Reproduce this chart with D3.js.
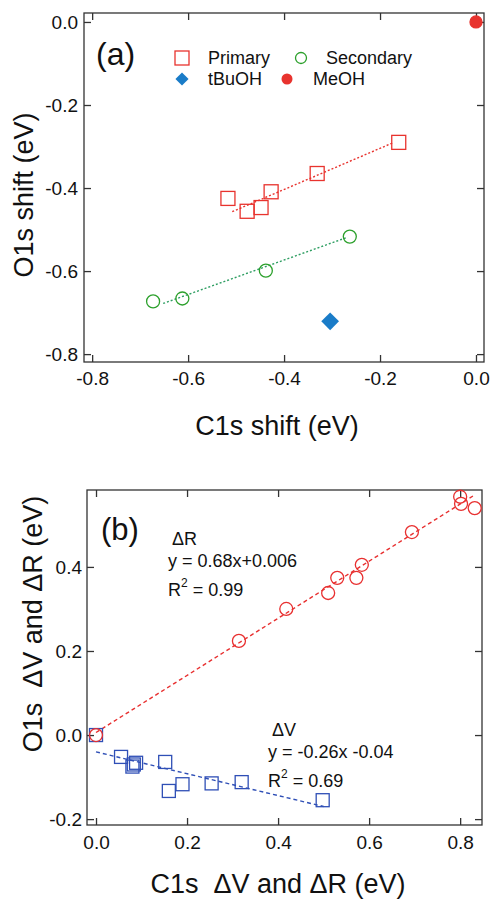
<!DOCTYPE html>
<html>
<head>
<meta charset="utf-8">
<script src="https://cdn.jsdelivr.net/npm/d3@7"></script>
<style>
  body { margin: 0; background: #fff; }
  text { font-family: "Liberation Sans", Arial, sans-serif; fill: #111; }
</style>
</head>
<body>
<svg id="chart"></svg>
<script>
// ---- panel (a) data ----
const primaryX = [-0.517, -0.477, -0.448, -0.427, -0.331, -0.161];
const primaryY = [-0.425, -0.456, -0.447, -0.409, -0.365, -0.290];
const secondaryX = [-0.673, -0.612, -0.438, -0.263];
const secondaryY = [-0.673, -0.666, -0.599, -0.517];
const tbuohX = [-0.304];
const tbuohY = [-0.721];
const meohX = [0.0];
const meohY = [0.0];
const primaryFitX = [-0.508, -0.173];
const primaryFitY = [-0.457, -0.291];
const secondaryFitX = [-0.652, -0.269];
const secondaryFitY = [-0.678, -0.519];
const ticksA_x = [-0.8, -0.6, -0.4, -0.2, 0.0];
const ticksA_y = [-0.8, -0.6, -0.4, -0.2, 0.0];

// ---- panel (b) data ----
const dRX = [0.0, 0.314, 0.418, 0.510, 0.530, 0.572, 0.584, 0.694, 0.800, 0.802, 0.832];
const dRY = [0.0, 0.224, 0.300, 0.338, 0.374, 0.374, 0.405, 0.483, 0.567, 0.550, 0.540];
const dVX = [0.0, 0.055, 0.080, 0.088, 0.083, 0.152, 0.160, 0.190, 0.254, 0.320, 0.498];
const dVY = [0.0, -0.052, -0.075, -0.066, -0.070, -0.064, -0.133, -0.117, -0.115, -0.112, -0.155];
const dRFitX = [0.0, 0.83];
const dRFitY = [0.006, 0.570];
const dVFitX = [0.0, 0.50];
const dVFitY = [-0.04, -0.17];
const ticksB_x = [0.0, 0.2, 0.4, 0.6, 0.8];
const ticksB_y = [-0.2, 0.0, 0.2, 0.4];

const red = "#e8332e", green = "#2ca02c", greenLine = "#2e9e62",
      blue = "#1a7cc8", navy = "#2f4fb6", redB = "#e83030";

const svg = d3.select("#chart").attr("width", 491).attr("height", 900);
const fmt = d => d.toFixed(1);
const zip = (xs, ys) => xs.map((x, i) => ({ x: x, y: ys[i] }));

function frame(g, x, y, padX, padY) {
    const [x0, x1] = x.range(), [y0, y1] = y.range();
    g.append("rect")
        .attr("x", x0).attr("y", y1)
        .attr("width", x1 - x0).attr("height", y0 - y1)
        .attr("fill", "none").attr("stroke", "#333").attr("stroke-width", 1.3);

    const style = sel => {
        sel.select(".domain").remove();
        sel.selectAll(".tick line").attr("stroke", "#333").attr("stroke-width", 1.3);
        sel.selectAll(".tick text").style("font-size", "19px").attr("fill", "#111");
    };
    g.append("g").attr("transform", `translate(0,${y0})`)
        .call(d3.axisBottom(x).tickValues(x.ticksList).tickFormat(fmt).tickSize(-7).tickPadding(padX))
        .call(style);
    g.append("g").attr("transform", `translate(0,${y1})`)
        .call(d3.axisTop(x).tickValues(x.ticksList).tickFormat("").tickSize(-7))
        .call(style);
    g.append("g").attr("transform", `translate(${x0},0)`)
        .call(d3.axisLeft(y).tickValues(y.ticksList).tickFormat(fmt).tickSize(-7).tickPadding(padY))
        .call(style);
    g.append("g").attr("transform", `translate(${x1},0)`)
        .call(d3.axisRight(y).tickValues(y.ticksList).tickFormat("").tickSize(-7))
        .call(style);
}

function fitLine(g, x, y, xs, ys, color, dash) {
    g.append("path")
        .datum(zip(xs, ys))
        .attr("d", d3.line().x(d => x(d.x)).y(d => y(d.y)))
        .attr("fill", "none").attr("stroke", color)
        .attr("stroke-width", 1.4).attr("stroke-dasharray", dash);
}

function squares(g, x, y, pts, color, s) {
    g.selectAll(null).data(pts).enter().append("rect")
        .attr("x", d => x(d.x) - s / 2).attr("y", d => y(d.y) - s / 2)
        .attr("width", s).attr("height", s)
        .attr("fill", "none").attr("stroke", color).attr("stroke-width", 1.3);
}

function circles(g, x, y, pts, color, r, filled) {
    g.selectAll(null).data(pts).enter().append("circle")
        .attr("cx", d => x(d.x)).attr("cy", d => y(d.y)).attr("r", r)
        .attr("fill", filled ? color : "none").attr("stroke", color).attr("stroke-width", 1.3);
}

// ================= panel (a) =================
const xA = d3.scaleLinear().domain([-0.817, 0.0167]).range([84, 484]);
const yA = d3.scaleLinear().domain([-0.819, 0.0216]).range([362, 13]);
xA.ticksList = ticksA_x; yA.ticksList = ticksA_y;
const gA = svg.append("g");
frame(gA, xA, yA, 10, 6);

fitLine(gA, xA, yA, primaryFitX, primaryFitY, red, "2,2");
fitLine(gA, xA, yA, secondaryFitX, secondaryFitY, greenLine, "2,2");
squares(gA, xA, yA, zip(primaryX, primaryY), red, 14);
circles(gA, xA, yA, zip(secondaryX, secondaryY), green, 6.5, false);
gA.selectAll(null).data(zip(tbuohX, tbuohY)).enter().append("path")
    .attr("d", d3.symbol(d3.symbolDiamond2, 200))
    .attr("transform", d => `translate(${xA(d.x)},${yA(d.y)})`)
    .attr("fill", blue);
circles(gA, xA, yA, zip(meohX, meohY), red, 6, true);

gA.append("text").attr("x", 96).attr("y", 65).style("font-size", "32px").text("(a)");

// legend
const legend = gA.append("g").style("font-size", "18px");
legend.append("rect").attr("x", 175).attr("y", 51).attr("width", 14).attr("height", 14)
    .attr("fill", "none").attr("stroke", red).attr("stroke-width", 1.3);
legend.append("text").attr("x", 208).attr("y", 58).attr("dy", "0.35em").text("Primary");
legend.append("circle").attr("cx", 301).attr("cy", 58).attr("r", 5.5)
    .attr("fill", "none").attr("stroke", green).attr("stroke-width", 1.3);
legend.append("text").attr("x", 326).attr("y", 58).attr("dy", "0.35em").text("Secondary");
legend.append("path").attr("d", d3.symbol(d3.symbolDiamond2, 110))
    .attr("transform", "translate(182,79)").attr("fill", blue);
legend.append("text").attr("x", 208).attr("y", 79).attr("dy", "0.35em").text("tBuOH");
legend.append("circle").attr("cx", 287).attr("cy", 79).attr("r", 5.5).attr("fill", red);
legend.append("text").attr("x", 313).attr("y", 79).attr("dy", "0.35em").text("MeOH");

svg.append("text").attr("x", 277).attr("y", 435).attr("text-anchor", "middle")
    .style("font-size", "27px").text("C1s shift (eV)");
svg.append("text").attr("transform", "translate(33,195) rotate(-90)").attr("text-anchor", "middle")
    .style("font-size", "27px").text("O1s shift (eV)");

// ================= panel (b) =================
const xB = d3.scaleLinear().domain([-0.0198, 0.848]).range([87, 482]);
const yB = d3.scaleLinear().domain([-0.214, 0.583]).range([825, 490]);
xB.ticksList = ticksB_x; yB.ticksList = ticksB_y;
const gB = svg.append("g");
frame(gB, xB, yB, 11, 5);

fitLine(gB, xB, yB, dRFitX, dRFitY, redB, "4,3");
fitLine(gB, xB, yB, dVFitX, dVFitY, navy, "4,3");
squares(gB, xB, yB, zip(dVX, dVY), navy, 13);
circles(gB, xB, yB, zip(dRX, dRY), redB, 6.5, false);

gB.append("text").attr("x", 101).attr("y", 540).style("font-size", "31px").text("(b)");

function annot(g, x, y, label, eq, r2) {
    const t = g.append("g").style("font-size", "18px");
    t.append("text").attr("x", x + 4).attr("y", y).text(label);
    t.append("text").attr("x", x).attr("y", y + 22).text(eq);
    const r = t.append("text").attr("x", x).attr("y", y + 51);
    r.append("tspan").text("R");
    r.append("tspan").attr("dy", -9).style("font-size", "12px").text("2");
    r.append("tspan").attr("dy", 9).text(" = " + r2);
}
annot(gB, 168, 545, "ΔR", "y = 0.68x+0.006", "0.99");
annot(gB, 268, 736, "ΔV", "y = -0.26x -0.04", "0.69");

svg.append("text").attr("x", 278).attr("y", 893).attr("text-anchor", "middle")
    .style("font-size", "27px").style("white-space", "pre").text("C1s  ΔV and ΔR (eV)");
svg.append("text").attr("transform", "translate(42,624) rotate(-90)").attr("text-anchor", "middle")
    .style("font-size", "27px").style("white-space", "pre").text("O1s  ΔV and ΔR (eV)");
</script>
</body>
</html>
